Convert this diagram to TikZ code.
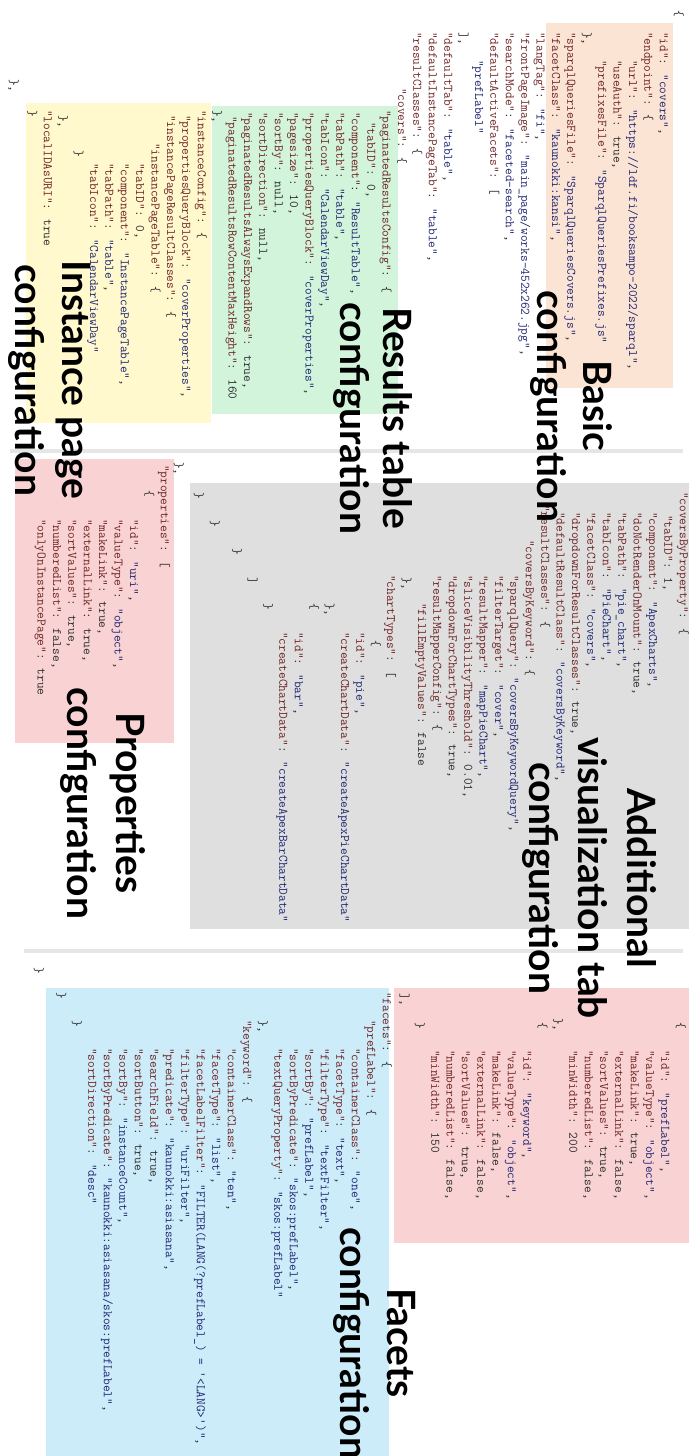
\documentclass[tikz,border=0pt]{standalone}
\usepackage{fontspec}
\newfontfamily\lblfont{Lato}
\definecolor{peachbg}{RGB}{252,228,212}
\definecolor{greenbg}{RGB}{210,244,219}
\definecolor{yellowbg}{RGB}{255,249,205}
\definecolor{graybg}{RGB}{223,223,223}
\definecolor{pinkbg}{RGB}{249,211,211}
\definecolor{bluebg}{RGB}{205,236,250}
\definecolor{rulegray}{RGB}{230,230,230}
\definecolor{keyc}{RGB}{110,35,35}
\definecolor{valc}{RGB}{30,38,115}
\definecolor{punc}{RGB}{45,45,45}
% JSON tokens: a quoted key with its colon, and a quoted string value
\newcommand\jkey[1]{\textcolor{keyc}{"#1"}:}
\newcommand\jval[1]{\textcolor{valc}{"#1"}}
\newcounter{codeln}
% one code line: start along the line (#1), cross position (#2), text (#3)
\newcommand\cln[3]{\stepcounter{codeln}\node[code] (ln\thecodeln) at (#1,#2-689) {#3};}
\tikzset{
  code/.style={anchor=mid west, inner sep=0pt, text=punc,
    font=\fontsize{13}{15}\selectfont\ttfamily},
  lbl/.style={anchor=base, inner sep=0pt, text=black,
    font=\fontsize{39}{46}\selectfont\lblfont\bfseries},
  rule/.style={line width=3.5pt, draw=rulegray},
}
\begin{document}
\begin{tikzpicture}[x=1pt,y=1pt]
\useasboundingbox (0,0) rectangle (689,-1456);
\clip (0,0) rectangle (689,-1456);
\begin{scope}[shift={(689,0)}, rotate=-90, transform shape]
% panels
\fill[peachbg]  (23,546-689)  rectangle (388,673-689);
\fill[greenbg]  (106,212-689) rectangle (414,398-689);
\fill[yellowbg] (103,26-689)  rectangle (423,211-689);
\fill[graybg]   (483,190-689) rectangle (929,689-689);
\fill[pinkbg]   (459,15-689)  rectangle (743,174-689);
\fill[pinkbg]   (988,394-689) rectangle (1243,689-689);
\fill[bluebg]   (988,46-689)  rectangle (1456,389-689);
% separators between the three columns
\draw[rule] (451,10-689) -- (451,683-689);
\draw[rule] (951,24-689) -- (951,683-689);

% ---- column 1: basic, results table and instance page
\cln{10}{677}{\{}
\cln{32}{662}{\jkey{id} \jval{covers},}
\cln{32}{646.6}{\jkey{endpoint} \{}
\cln{60}{631.2}{\jkey{url} \jval{https://ldf.fi/booksampo-2022/sparql},}
\cln{60}{615.8}{\jkey{useAuth} true,}
\cln{60}{600.4}{\jkey{prefixesFile} \jval{SparqlQueriesPrefixes.js}}
\cln{32}{585}{\},}
\cln{32}{569.6}{\jkey{sparqlQueriesFile} \jval{SparqlQueriesCovers.js},}
\cln{32}{554.2}{\jkey{facetClass} \jval{kaunokki:kansi},}
\cln{32}{538.8}{\jkey{langTag} \jval{fi},}
\cln{32}{523.4}{\jkey{frontPageImage} \jval{main\_page/works-452x262.jpg},}
\cln{32}{508}{\jkey{searchMode} \jval{faceted-search},}
\cln{32}{492.6}{\jkey{defaultActiveFacets} [}
\cln{60}{477.2}{\jval{prefLabel}}
\cln{32}{461.8}{],}
\cln{32}{446.4}{\jkey{defaultTab} \jval{table},}
\cln{32}{431}{\jkey{defaultInstancePageTab} \jval{table},}
\cln{32}{415.6}{\jkey{resultClasses} \{}
\cln{88}{400.2}{\jkey{covers} \{}
\cln{110}{384.8}{\jkey{paginatedResultsConfig} \{}
\cln{122}{369.4}{\jkey{tabID} 0,}
\cln{112}{354}{\jkey{component} \jval{ResultTable},}
\cln{112}{338.6}{\jkey{tabPath} \jval{table},}
\cln{112}{323.2}{\jkey{tabIcon} \jval{CalendarViewDay},}
\cln{112}{307.8}{\jkey{propertiesQueryBlock} \jval{coverProperties},}
\cln{112}{292.4}{\jkey{pagesize} 10,}
\cln{112}{277}{\jkey{sortBy} null,}
\cln{112}{261.6}{\jkey{sortDirection} null,}
\cln{112}{246.2}{\jkey{paginatedResultsAlwaysExpandRows} true,}
\cln{116}{230.8}{\jkey{paginatedResultsRowContentMaxHeight} 160}
\cln{110}{215.4}{\},}
\cln{110}{200}{\jkey{instanceConfig} \{}
\cln{115}{184.6}{\jkey{propertiesQueryBlock} \jval{coverProperties},}
\cln{115}{169.2}{\jkey{instancePageResultClasses} \{}
\cln{143}{153.8}{\jkey{instancePageTable} \{}
\cln{163}{138.4}{\jkey{tabID} 0,}
\cln{163}{123}{\jkey{component} \jval{InstancePageTable},}
\cln{163}{107.6}{\jkey{tabPath} \jval{table},}
\cln{163}{92.2}{\jkey{tabIcon} \jval{CalendarViewDay}}
\cln{150}{76.8}{\}}
\cln{115}{61.4}{\},}
\cln{110}{46}{\jkey{localIDAsURI} true}
\cln{110}{30.6}{\}}
\cln{79}{12}{\},}

% ---- column 2: visualization tab and properties
\cln{492}{682}{\jkey{coversByProperty} \{}
\cln{515}{666.6}{\jkey{tabID} 1,}
\cln{512}{651.2}{\jkey{component} \jval{ApexCharts},}
\cln{512}{635.8}{\jkey{doNotRenderOnMount} true,}
\cln{512}{620.4}{\jkey{tabPath} \jval{pie\_chart},}
\cln{512}{605}{\jkey{tabIcon} \jval{PieChart},}
\cln{512}{589.6}{\jkey{facetClass} \jval{covers},}
\cln{512}{574.2}{\jkey{dropdownForResultClasses} true,}
\cln{512}{558.8}{\jkey{defaultResultClass} \jval{coversByKeyword},}
\cln{505}{543.4}{\jkey{resultClasses} \{}
\cln{540}{528}{\jkey{coversByKeyword} \{}
\cln{575}{512.6}{\jkey{sparqlQuery} \jval{coversByKeywordQuery},}
\cln{575}{497.2}{\jkey{filterTarget} \jval{cover},}
\cln{575}{481.8}{\jkey{resultMapper} \jval{mapPieChart},}
\cln{575}{466.4}{\jkey{sliceVisibilityThreshold} 0.01,}
\cln{575}{451}{\jkey{dropdownForChartTypes} true,}
\cln{575}{435.6}{\jkey{resultMapperConfig} \{}
\cln{603}{420.2}{\jkey{fillEmptyValues} false}
\cln{577}{404.8}{\},}
\cln{575}{389.4}{\jkey{chartTypes} [}
\cln{640}{374}{\{}
\cln{632}{358.6}{\jkey{id} \jval{pie},}
\cln{632}{343.2}{\jkey{createChartData} \jval{createApexPieChartData}}
\cln{603}{327.8}{\},}
\cln{603}{312.4}{\{}
\cln{632}{297}{\jkey{id} \jval{bar},}
\cln{632}{281.6}{\jkey{createChartData} \jval{createApexBarChartData}}
\cln{603}{266.2}{\}}
\cln{577}{250.8}{]}
\cln{548}{235.4}{\}}
\cln{520}{213}{\}}
\cln{492}{197}{\}}
\cln{462}{177}{\},}
\cln{465}{163}{\jkey{properties} [}
\cln{490}{147.6}{\{}
\cln{519}{132.2}{\jkey{id} \jval{uri},}
\cln{519}{116.8}{\jkey{valueType} \jval{object},}
\cln{519}{101.4}{\jkey{makeLink} true,}
\cln{519}{86}{\jkey{externalLink} true,}
\cln{519}{70.6}{\jkey{sortValues} true,}
\cln{519}{55.2}{\jkey{numberedList} false,}
\cln{519}{39.8}{\jkey{onlyOnInstancePage} true}

% ---- column 3: property list and facets
\cln{1022}{679}{\{}
\cln{1050}{663.6}{\jkey{id} \jval{prefLabel},}
\cln{1050}{648.3}{\jkey{valueType} \jval{object},}
\cln{1050}{632.9}{\jkey{makeLink} true,}
\cln{1050}{617.6}{\jkey{externalLink} false,}
\cln{1050}{602.2}{\jkey{sortValues} true,}
\cln{1050}{586.9}{\jkey{numberedList} false,}
\cln{1050}{571.5}{\jkey{minWidth} 200}
\cln{1018}{556.2}{\},}
\cln{1022}{540.8}{\{}
\cln{1050}{525.5}{\jkey{id} \jval{keyword},}
\cln{1050}{510.1}{\jkey{valueType} \jval{object},}
\cln{1050}{494.8}{\jkey{makeLink} false,}
\cln{1050}{479.4}{\jkey{externalLink} false,}
\cln{1050}{464.1}{\jkey{sortValues} true,}
\cln{1050}{448.7}{\jkey{numberedList} false,}
\cln{1050}{433.4}{\jkey{minWidth} 150}
\cln{1022}{418}{\}}
\cln{993}{402.7}{],}
\cln{992}{385}{\jkey{facets} \{}
\cln{1020}{369.5}{\jkey{prefLabel} \{}
\cln{1048}{354}{\jkey{containerClass} \jval{one},}
\cln{1048}{338.5}{\jkey{facetType} \jval{text},}
\cln{1048}{323}{\jkey{filterType} \jval{textFilter},}
\cln{1048}{307.5}{\jkey{sortBy} \jval{prefLabel},}
\cln{1048}{292}{\jkey{sortByPredicate} \jval{skos:prefLabel},}
\cln{1048}{276.5}{\jkey{textQueryProperty} \jval{skos:prefLabel}}
\cln{1020}{261}{\},}
\cln{1020}{245.5}{\jkey{keyword} \{}
\cln{1048}{230}{\jkey{containerClass} \jval{ten},}
\cln{1048}{214.5}{\jkey{facetType} \jval{list},}
\cln{1048}{199}{\jkey{facetLabelFilter} \jval{FILTER(LANG(?prefLabel\_) = '<LANG>')},}
\cln{1048}{183.5}{\jkey{filterType} \jval{uriFilter},}
\cln{1048}{168}{\jkey{predicate} \jval{kaunokki:asiasana},}
\cln{1048}{152.5}{\jkey{searchField} true,}
\cln{1048}{137}{\jkey{sortButton} true,}
\cln{1048}{121.5}{\jkey{sortBy} \jval{instanceCount},}
\cln{1048}{106}{\jkey{sortByPredicate} \jval{kaunokki:asiasana/skos:prefLabel},}
\cln{1048}{90.5}{\jkey{sortDirection} \jval{desc}}
\cln{1020}{75}{\}}
\cln{992}{59.5}{\}}
\cln{967}{37}{\}}

% ---- section titles
\node[lbl] (basic1) at (406,583-689) {Basic};
\node[lbl] (basic2) at (406,537-689) {configuration};
\node[lbl] (res1) at (418,383-689) {Results table};
\node[lbl] (res2) at (418,340-689) {configuration};
\node[lbl] (inst1) at (380,62-689) {Instance page};
\node[lbl] (inst2) at (380,15-689) {configuration};
\node[lbl] (vis1) at (878,627-689) {Additional};
\node[lbl] (vis2) at (878,578-689) {visualization tab};
\node[lbl] (vis3) at (878,529-689) {configuration};
\node[lbl] (prop1) at (803,116-689) {Properties};
\node[lbl] (prop2) at (803,67-689) {configuration};
\node[lbl] (fac1) at (1343,387-689) {Facets};
\node[lbl] (fac2) at (1343,340-689) {configuration};
\end{scope}
\end{tikzpicture}
\end{document}
